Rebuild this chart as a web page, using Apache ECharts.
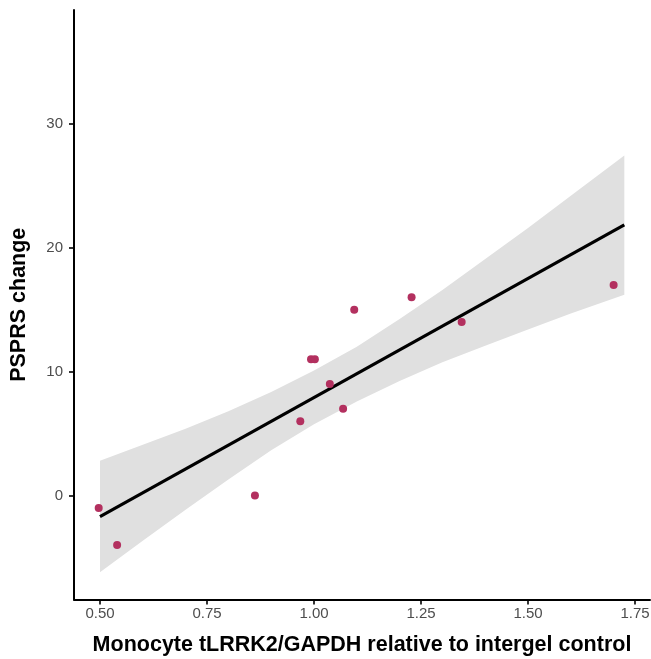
<!DOCTYPE html>
<html lang="en">
<head>
    <meta charset="UTF-8">
    <title>PSPRS change vs monocyte tLRRK2</title>
    <script src="https://cdn.jsdelivr.net/npm/echarts@6.0.0/dist/echarts.min.js"></script>
    <style>
        * { margin: 0; padding: 0; }
        body { background: #fff; }
        #chart { width: 651px; height: 659px; }
    </style>
</head>
<body>
<div id="chart"></div>
<script>
    // observed points (x = tLRRK2/GAPDH ratio, y = PSPRS change)
    const ratioX = [0.497, 0.540, 0.862, 0.968, 0.993, 1.002, 1.037, 1.068, 1.094, 1.228, 1.345, 1.700];
    const psprsY = [-1, -4, 0, 6, 11, 11, 9, 7, 15, 16, 14, 17];

    // fitted line ends
    const fitX = [0.50, 1.725];
    const fitY = [-1.7, 21.85];

    // confidence band
    const bandX = [0.50, 0.60, 0.70, 0.80, 0.90, 1.00, 1.10, 1.20, 1.30, 1.40, 1.50, 1.60, 1.725];
    const bandUpper = [2.8, 4.1, 5.4, 6.8, 8.35, 10.1, 12.0, 14.25, 16.6, 19.1, 21.6, 24.2, 27.45];
    const bandLower = [-6.2, -3.65, -1.15, 1.3, 3.65, 5.75, 7.6, 9.25, 10.75, 12.1, 13.4, 14.7, 16.2];

    const xTicks = [0.50, 0.75, 1.00, 1.25, 1.50, 1.75];
    const yTicks = [0, 10, 20, 30];

    const chart = echarts.init(document.getElementById('chart'));

    const fontFam = 'Liberation Sans, Arial, sans-serif';
    const axisFont = {color: '#4d4d4d', fontSize: 15, fontFamily: fontFam};
    const titleFont = {color: '#000', fontSize: 21.5, fontWeight: 'bold', fontFamily: fontFam};

    // band outline: upper edge left->right, then lower edge right->left
    const bandOutline = bandX.map((x, i) => [x, bandUpper[i]])
        .concat(bandX.map((x, i) => [x, bandLower[i]]).reverse());

    const option = {
        animation: false,
        grid: {left: 74, right: 1, top: 10, bottom: 59.5, outerBoundsMode: 'none', containLabel: false},
        xAxis: {
            type: 'value',
            min: 0.4393,
            max: 1.785,
            name: 'Monocyte tLRRK2/GAPDH relative to intergel control',
            nameLocation: 'middle',
            nameGap: 35,
            nameTextStyle: titleFont,
            axisLine: {show: true, onZero: false, lineStyle: {color: '#000', width: 2}},
            axisTick: {show: true, length: 5, customValues: xTicks, lineStyle: {color: '#000', width: 1.6}},
            axisLabel: Object.assign({
                margin: 7,
                customValues: xTicks,
                formatter: v => v.toFixed(2)
            }, axisFont),
            splitLine: {show: false}
        },
        yAxis: {
            type: 'value',
            min: -8.39,
            max: 39.19,
            name: 'PSPRS change',
            nameLocation: 'middle',
            nameGap: 44,
            nameTextStyle: titleFont,
            axisLine: {show: true, onZero: false, lineStyle: {color: '#000', width: 2}},
            axisTick: {show: true, length: 5, customValues: yTicks, lineStyle: {color: '#000', width: 1.6}},
            axisLabel: Object.assign({
                margin: 11,
                customValues: yTicks,
                formatter: v => String(v)
            }, axisFont),
            splitLine: {show: false}
        },
        series: [
            {
                type: 'custom',
                name: 'band',
                silent: true,
                z: 1,
                data: [0],
                renderItem: function (params, api) {
                    return {
                        type: 'polygon',
                        shape: {points: bandOutline.map(p => api.coord(p))},
                        style: {fill: '#e0e0e0'}
                    };
                }
            },
            {
                type: 'line',
                name: 'fit',
                data: fitX.map((x, i) => [x, fitY[i]]),
                symbol: 'none',
                lineStyle: {color: '#000', width: 3.2},
                z: 3
            },
            {
                type: 'scatter',
                name: 'patients',
                data: ratioX.map((x, i) => [x, psprsY[i]]),
                symbolSize: 8,
                itemStyle: {color: '#b3305f', opacity: 1},
                z: 4
            }
        ]
    };

    chart.setOption(option);
</script>
</body>
</html>
